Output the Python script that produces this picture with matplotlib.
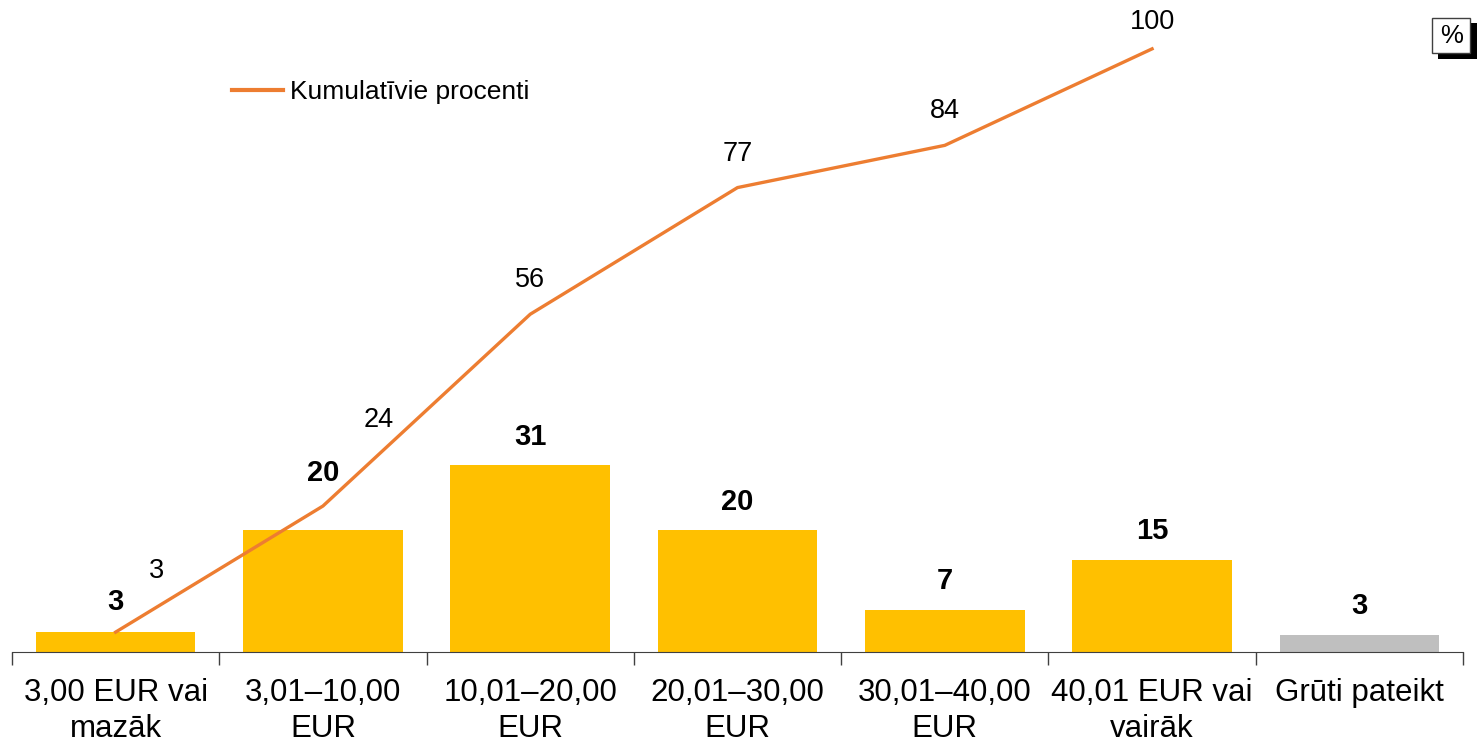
import matplotlib.pyplot as plt
import numpy as np
from matplotlib.patches import Rectangle

plt.rcParams['font.family'] = ['Liberation Sans', 'DejaVu Sans']

# data
categories = ["3,00 EUR vai\nmazāk", "3,01–10,00\nEUR", "10,01–20,00\nEUR",
              "20,01–30,00\nEUR", "30,01–40,00\nEUR", "40,01 EUR vai\nvairāk",
              "Grūti pateikt"]
shares = [3.3, 20.2, 31, 20.2, 7, 15.2, 2.8]
share_labels = ["3", "20", "31", "20", "7", "15", "3"]
cumulative = [3.3, 24.2, 56, 77, 84, 100]
cumulative_labels = ["3", "24", "56", "77", "84", "100"]
bar_colors = ["#FFC000"] * 6 + ["#BFBFBF"]

fig = plt.figure(figsize=(14.79, 7.49), dpi=100)
ax = fig.add_axes([12 / 1479, 97 / 749, (1463 - 12) / 1479, 652 / 749])

x = np.arange(len(categories))
ax.bar(x, shares, width=0.77, color=bar_colors, zorder=1)
line, = ax.plot(x[:len(cumulative)], cumulative, color="#ED7D31", linewidth=2.4,
                zorder=2, label="Kumulatīvie procenti")

ax.set_xlim(-0.5, len(categories) - 0.5)
ax.set_ylim(0, 108.1)

# bar labels (bold)
bar_offsets = [22, 41.5, 20.5, 20.5, 20.5, 21, 21]
for i, v in enumerate(shares):
    ax.annotate(share_labels[i], (x[i], v), xytext=(0, bar_offsets[i]),
                textcoords="offset points", ha="center", va="center",
                fontsize=21, fontweight="bold")

# cumulative labels
line_offsets = [(29.5, 44), (40, 62), (0, 24.5), (0, 24.5), (0, 25), (0, 19.5)]
for i, v in enumerate(cumulative):
    ax.annotate(cumulative_labels[i], (x[i], v), xytext=line_offsets[i],
                textcoords="offset points", ha="center", va="center", fontsize=19.5,
                annotation_clip=False)

# axes styling
for s in ["top", "right", "left"]:
    ax.spines[s].set_visible(False)
ax.spines["bottom"].set_color("#404040")
ax.set_yticks([])
ax.set_xticks(x)
ax.set_xticklabels(categories, fontsize=22.5, linespacing=1.25)
ax.tick_params(axis="x", length=0, pad=19)
# boundary ticks between categories
ax.set_xticks(np.arange(-0.5, len(categories)), minor=True)
ax.tick_params(axis="x", which="minor", length=9, width=1, color="#404040")

leg = fig.legend(handles=[line], loc="center left",
                 bbox_to_anchor=(232 / 1479, 1 - 92 / 749),
                 frameon=False, fontsize=19, handlelength=1.93, handletextpad=0.25,
                 borderpad=0, borderaxespad=0)
leg.get_lines()[0].set_linewidth(3)

# % box with shadow
fig.patches.append(Rectangle((1438 / 1479, 1 - 59 / 749), 39 / 1479, 36 / 749,
                             transform=fig.transFigure, facecolor="black",
                             edgecolor="none", zorder=3))
fig.patches.append(Rectangle((1432 / 1479, 1 - 53 / 749), 38 / 1479, 35 / 749,
                             transform=fig.transFigure, facecolor="white",
                             edgecolor="#404040", linewidth=1, zorder=4))
fig.text(1451.5 / 1479, 1 - 36 / 749, "%", ha="center", va="center",
         fontsize=18.5, zorder=5)

fig.savefig("out.png", dpi=100)
